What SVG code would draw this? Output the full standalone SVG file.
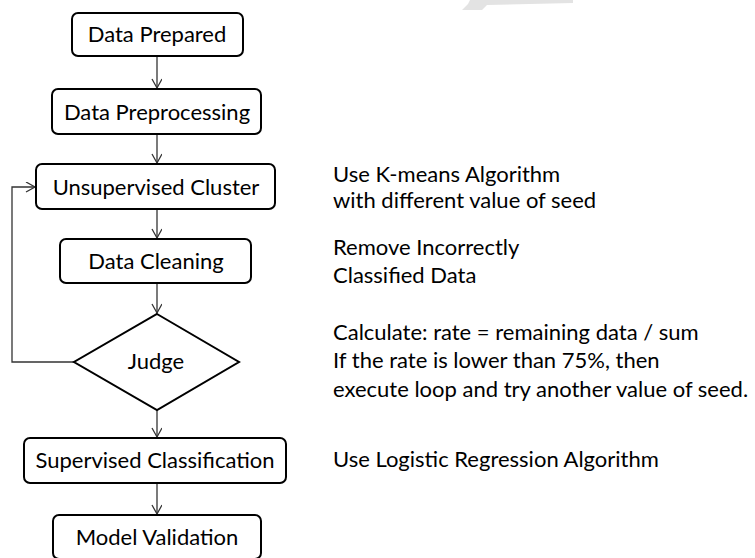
<svg xmlns="http://www.w3.org/2000/svg" width="755" height="558" viewBox="0 0 755 558">
<defs>
<style>
.box{fill:#fff;stroke:#000;stroke-width:2}
.lbl{font-family:Lato,"Liberation Sans",sans-serif;font-size:22px;fill:#000;text-anchor:middle}
.note{font-family:Lato,"Liberation Sans",sans-serif;font-size:22px;fill:#000}
.edge{fill:none;stroke:#333;stroke-width:1.3}
</style>
<marker id="arr" markerWidth="12" markerHeight="12" refX="10" refY="5" orient="auto" markerUnits="userSpaceOnUse">
<path d="M1,0 L10,5 L1,10" fill="none" stroke="#333" stroke-width="1.3"/>
</marker>
</defs>
<rect width="755" height="558" fill="#fff"/>
<polygon points="470,0 573,0 573,3 487,5 482,10 462,10 468,4" fill="#e3e3e3"/>
<g id="connectors">
<path class="edge" d="M157,56 V88" marker-end="url(#arr)"/>
<path class="edge" d="M157,134 V163" marker-end="url(#arr)"/>
<path class="edge" d="M157,209 V238" marker-end="url(#arr)"/>
<path class="edge" d="M157,283 V313" marker-end="url(#arr)"/>
<path class="edge" d="M74,362 H12 V187 H35" marker-end="url(#arr)"/>
<path class="edge" d="M157,410 V437" marker-end="url(#arr)"/>
<path class="edge" d="M157,483 V514" marker-end="url(#arr)"/>
</g>
<g id="n-prepared">
<rect class="box" x="72" y="13" width="171" height="43" rx="6"/>
<text class="lbl" x="157" y="42">Data Prepared</text>
</g>
<g id="n-preprocessing">
<rect class="box" x="52" y="89" width="209" height="45" rx="6"/>
<text class="lbl" x="157" y="120">Data Preprocessing</text>
</g>
<g id="n-cluster">
<rect class="box" x="36" y="164" width="239" height="45" rx="6"/>
<text class="lbl" x="156" y="195">Unsupervised Cluster</text>
</g>
<g id="n-cleaning">
<rect class="box" x="60" y="239" width="191" height="44" rx="6"/>
<text class="lbl" x="156" y="269">Data Cleaning</text>
</g>
<g id="n-judge">
<polygon class="box" points="157,314 239,362 157,410 74,362"/>
<text class="lbl" x="156" y="369">Judge</text>
</g>
<g id="n-supervised">
<rect class="box" x="24" y="438" width="262" height="45" rx="6"/>
<text class="lbl" x="155" y="468">Supervised Classification</text>
</g>
<g id="n-validation">
<rect class="box" x="53" y="515" width="208" height="44" rx="6"/>
<text class="lbl" x="157" y="545">Model Validation</text>
</g>
<g id="notes">
<text class="note" x="333" y="182">Use K-means Algorithm</text>
<text class="note" x="333" y="208">with different value of seed</text>
<text class="note" x="333" y="255">Remove Incorrectly</text>
<text class="note" x="333" y="283">Classified Data</text>
<text class="note" x="333" y="340">Calculate: rate = remaining data / sum</text>
<text class="note" x="333" y="368">If the rate is lower than 75%, then</text>
<text class="note" x="333" y="397">execute loop and try another value of seed.</text>
<text class="note" x="333" y="467">Use Logistic Regression Algorithm</text>
</g>
</svg>
